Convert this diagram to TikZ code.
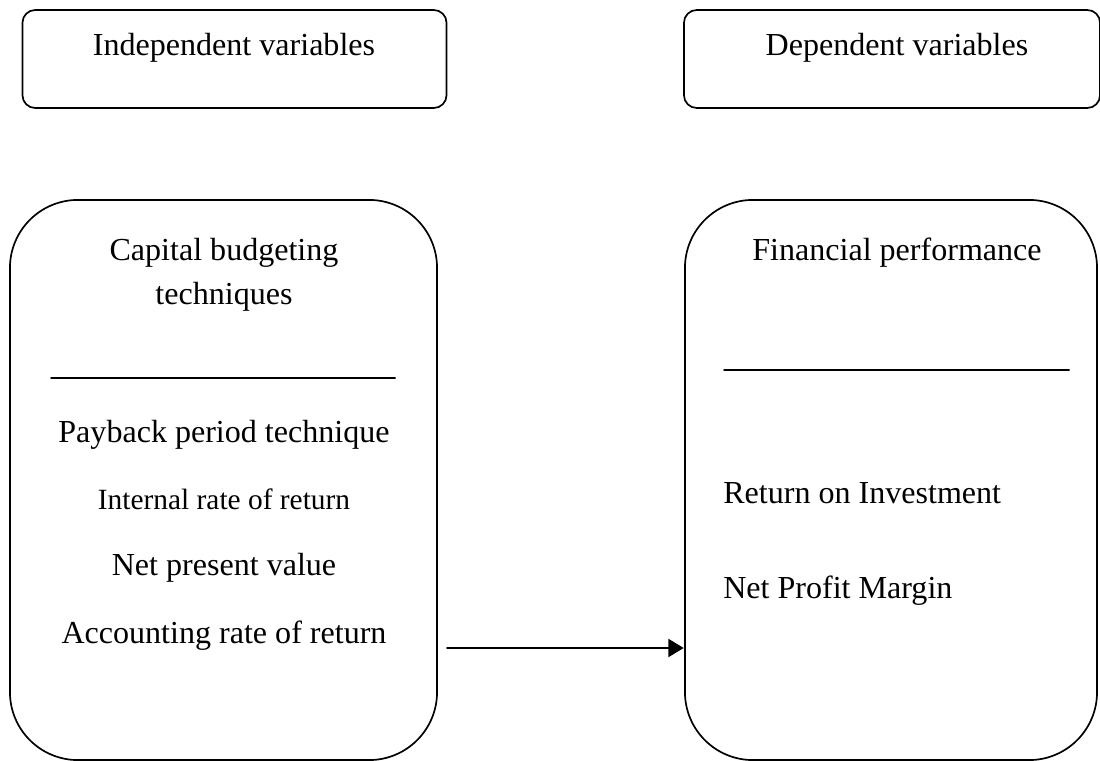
\documentclass[tikz,border=0pt]{standalone}
\usepackage{fontspec}
\setmainfont{Liberation Serif}
\usetikzlibrary{arrows.meta,positioning,calc}

\begin{document}
\begin{tikzpicture}[
  x=0.025cm,
  y=-0.025cm,
  line cap=round,
  line join=round,
  >={Triangle[length=0.38cm,width=0.45cm]},
  every node/.style={
    align=center,
    text=black,
    inner sep=0pt,
  },
  headbox/.style={
    draw,
    line width=1.2pt,
    rounded corners=0.32cm,
    minimum height=2.45cm,
  },
  bigbox/.style={
    draw,
    line width=1.2pt,
    rounded corners=1.7cm,
    minimum height=14cm,
  },
  lbl/.style={
    font=\fontsize{22.8}{31}\selectfont,
  },
  smlbl/.style={
    font=\fontsize{20.9}{26}\selectfont,
  },
  rule/.style={
    line width=1.2pt,
  },
  arr/.style={
    ->,
    line width=1.1pt,
    shorten >=0.3pt,
  },
]
\useasboundingbox (0,0) rectangle (1100,761);

% --- header boxes ---
\node[headbox, minimum width=10.6cm] (indep) at (234.5,59) {};
\node[headbox, minimum width=10.4cm] (dep) at (892,59) {};
\node[lbl] (indeplbl) at (234,48) {Independent variables};
\node[lbl] (deplbl) at (897,48) {Dependent variables};

% --- main boxes ---
\node[bigbox, minimum width=10.675cm] (cbt) at (223.5,480) {};
\node[bigbox, minimum width=10.3cm] (fp) at (891,480) {};

\node[lbl] (cbtlbl) at (224,275) {Capital budgeting\\techniques};
\node[lbl] (fplbl) at (897,253) {Financial performance};

\draw[rule] ($(cbt.west)+(42,-102)$) -- ++(344,0);
\draw[rule] ($(fp.west)+(40,-110)$) -- ++(345,0);

% --- independent variables ---
\node[lbl] (pbp) at (224,435) {Payback period technique};
\node[smlbl] (irr) at (224,499) {Internal rate of return};
\node[lbl] (npv) at (224,568) {Net present value};
\node[lbl] (arr) at (224,636) {Accounting rate of return};

% --- dependent variables ---
\node[lbl, anchor=west] (roi) at (723,493) {Return on Investment};
\node[lbl, anchor=west] (npm) at (723,591) {Net Profit Margin};

% --- arrow ---
\coordinate (src) at (447,648);
\draw[arr] (src) -- (src -| fp.west);

\end{tikzpicture}
\end{document}
